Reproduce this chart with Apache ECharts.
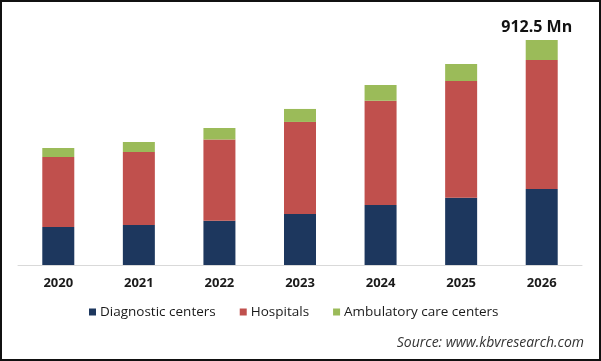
<!DOCTYPE html>
<html>
<head>
<meta charset="utf-8">
<script src="https://cdn.jsdelivr.net/npm/echarts@6/dist/echarts.min.js"></script>
<style>
html,body{margin:0;padding:0;background:#fff;}
#chart{width:601px;height:361px;}
</style>
</head>
<body>
<div id="chart"></div>
<script>
const years = ['2020','2021','2022','2023','2024','2025','2026'];
const diagnostic = [154.1, 162.2, 179.7, 206.9, 243.4, 273.0, 308.3];
const hospitals = [283.9, 296.1, 329.0, 373.2, 423.0, 473.3, 523.2];
const ambulatory = [36.5, 40.6, 46.6, 52.7, 63.7, 69.0, 81.0];
const seriesNames = ['Diagnostic centers', 'Hospitals', 'Ambulatory care centers'];
const colors = ['#1d375e', '#c0504d', '#9bbb59'];
const topLabel = '912.5 Mn';

const chart = echarts.init(document.getElementById('chart'), null, {renderer: 'canvas'});
const font = '"Open Sans", "Liberation Sans", sans-serif';

const ambData = ambulatory.map((v, i) => {
  if (i === ambulatory.length - 1) {
    return {
      value: v,
      label: {
        show: true, position: 'top', distance: 5, offset: [-5, 0],
        formatter: topLabel, fontFamily: font, fontWeight: 'bold',
        fontSize: 16, color: '#111'
      }
    };
  }
  return v;
});

chart.setOption({
  animation: false,
  color: colors,
  grid: {left: 18, right: 19, top: 18.4, bottom: 96, containLabel: false},
  xAxis: {
    type: 'category', data: years,
    axisLine: {show: true, lineStyle: {color: '#d9d9d9', width: 1}},
    axisTick: {show: false},
    axisLabel: {fontFamily: font, fontWeight: 'bold', fontSize: 13, color: '#1a1a1a', margin: 12}
  },
  yAxis: {type: 'value', min: 0, max: 1000, show: false, splitLine: {show: false}},
  legend: {
    data: seriesNames, top: 300, left: 84,
    itemWidth: 7, itemHeight: 7, itemGap: 24, icon: 'rect',
    textStyle: {fontFamily: font, fontSize: 13.5, color: '#1a1a1a', padding: [0,0,0,-1]}
  },
  series: [
    {name: seriesNames[0], type: 'bar', stack: 'a', barWidth: 32, data: diagnostic},
    {name: seriesNames[1], type: 'bar', stack: 'a', barWidth: 32, data: hospitals},
    {name: seriesNames[2], type: 'bar', stack: 'a', barWidth: 32, data: ambData}
  ],
  graphic: [
    {type: 'rect', shape: {x: 1, y: 1, width: 599, height: 359},
     style: {fill: 'none', stroke: '#111', lineWidth: 2}, silent: true},
    {type: 'text', right: 17, top: 336,
     style: {text: 'Source: www.kbvresearch.com', font: 'italic 14px "Open Sans", sans-serif', fill: '#333'}}
  ]
});
</script>
</body>
</html>
